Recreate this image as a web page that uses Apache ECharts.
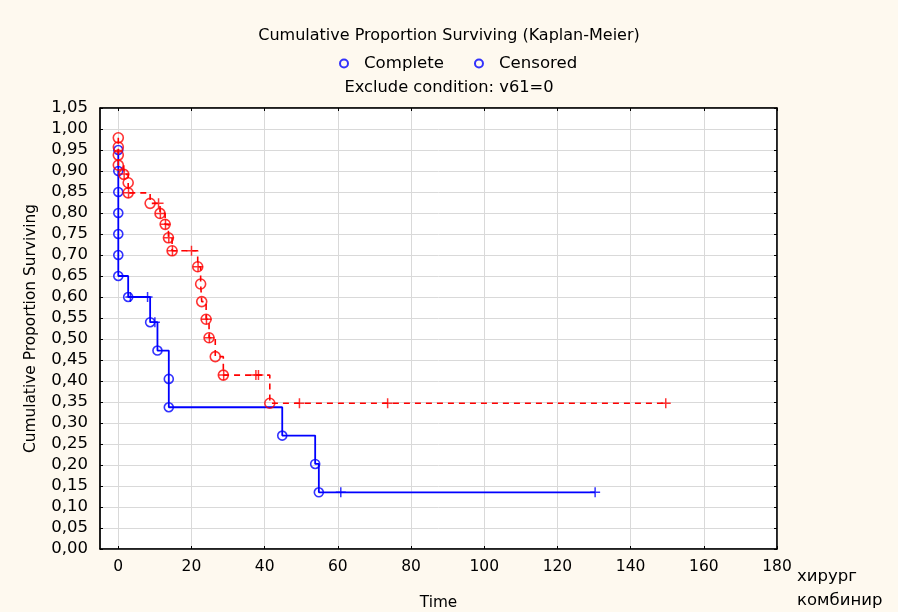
<!DOCTYPE html>
<html>
<head>
<meta charset="utf-8">
<script src="https://cdn.jsdelivr.net/npm/echarts@6/dist/echarts.min.js"></script>
<style>
html,body{margin:0;padding:0;background:#fef9ef;}
#c{width:898px;height:612px;}
</style>
</head>
<body>
<div id="c"></div>
<script>
// X tick labels
const xTicks = [0, 20, 40, 60, 80, 100, 120, 140, 160, 180];

// хирург (blue, solid): event times and survival at each event
const surgTimes = [0, 0, 0, 0, 0, 0, 0, 2.7, 8.7, 10.7, 13.8, 13.8, 44.8, 53.8, 54.8];
const surgSurv  = [0.95, 0.90, 0.85, 0.80, 0.75, 0.70, 0.65, 0.60, 0.54, 0.4725, 0.405, 0.3375, 0.27, 0.2025, 0.135];
// хирург censored
const surgCensT = [3.3, 8.0, 10.0, 60.8, 130.3];
const surgCensS = [0.60, 0.60, 0.54, 0.135, 0.135];

// комбинир (red, dashed)
const combTimes = [0, 0, 0, 0, 1.5, 2.7, 2.7, 8.7, 11.4, 12.8, 13.7, 14.7, 21.7, 22.5, 22.8, 24.0, 24.8, 26.5, 28.7, 41.4];
const combSurv  = [0.979, 0.957, 0.938, 0.914, 0.892, 0.872, 0.848, 0.823, 0.799, 0.773, 0.741, 0.710, 0.672, 0.631, 0.589, 0.547, 0.503, 0.458, 0.414, 0.347];
// комбинир censored
const combCensT = [1.6, 2.8, 11.0, 11.5, 12.9, 13.8, 14.8, 20.0, 21.8, 24.1, 24.9, 28.8, 37.6, 38.3, 49.5, 73.6, 149.6];
const combCensS = [0.893, 0.848, 0.823, 0.799, 0.773, 0.741, 0.710, 0.710, 0.672, 0.547, 0.503, 0.414, 0.414, 0.414, 0.347, 0.347, 0.347];

function stepLine(times, surv, censT) {
  const pts = [[times[0], surv[0]]];
  for (let i = 1; i < times.length; i++) {
    pts.push([times[i], surv[i - 1]]);
    pts.push([times[i], surv[i]]);
  }
  const last = Math.max(...censT);
  if (last > times[times.length - 1]) pts.push([last, surv[surv.length - 1]]);
  return pts;
}
function zip(a, b) { return a.map((v, i) => [v, b[i]]); }

const BLUE = '#0000ff', RED = '#ff0000';
const plusPath = 'path://M5,0L5,10M0,5L10,5';
const FONT = '"DejaVu Sans", Verdana, sans-serif';

const chart = echarts.init(document.getElementById('c'), null, {renderer: 'canvas'});
chart.setOption({
  backgroundColor: '#fef9ef',
  animation: false,
  title: [
    {text: 'Cumulative Proportion Surviving (Kaplan-Meier)', left: 'center', top: 23,
     textStyle: {fontFamily: FONT, fontSize: 16, fontWeight: 'normal', color: '#000'}},
    {text: 'Exclude condition: v61=0', left: 'center', top: 75,
     textStyle: {fontFamily: FONT, fontSize: 16.3, fontWeight: 'normal', color: '#000'}}
  ],
  legend: {
    top: 50, left: 334, itemWidth: 8, itemHeight: 8, itemGap: 30,
    textStyle: {fontFamily: FONT, fontSize: 16.6, color: '#000', padding: [0, 0, 0, 11]},
    data: [
      {name: 'Complete', icon: 'circle', itemStyle: {color: 'transparent', borderColor: BLUE, borderWidth: 2}},
      {name: 'Censored', icon: 'circle', itemStyle: {color: 'transparent', borderColor: BLUE, borderWidth: 2}}
    ]
  },
  grid: {left: 100, right: 121, top: 108, bottom: 63, outerBoundsMode: 'none', containLabel: false,
    show: true, backgroundColor: '#ffffff', borderColor: '#000', borderWidth: 1},
  xAxis: [{
    type: 'value', min: -5, max: 180,
    name: 'Time', nameLocation: 'middle', nameGap: 47,
    nameTextStyle: {fontFamily: FONT, fontSize: 15.3, color: '#000'},
    axisLine: {show: true, onZero: false, lineStyle: {color: '#000', width: 1.5}},
    axisTick: {show: true, inside: true, length: 3, customValues: xTicks, lineStyle: {color: '#000'}},
    axisLabel: {customValues: xTicks, fontFamily: FONT, fontSize: 15.5, color: '#000', margin: 10},
    splitLine: {show: true, lineStyle: {color: '#d9d9d9', width: 1}}
  }, {
    type: 'value', min: -5, max: 180, position: 'top',
    axisLine: {show: true, onZero: false, lineStyle: {color: '#000', width: 1.5}},
    axisTick: {show: true, inside: true, length: 3, customValues: xTicks, lineStyle: {color: '#000'}},
    axisLabel: {show: false, customValues: xTicks},
    splitLine: {show: false}
  }],
  yAxis: [{
    type: 'value', min: 0, max: 1.05, interval: 0.05,
    name: 'Cumulative Proportion Surviving', nameLocation: 'middle', nameGap: 62,
    nameTextStyle: {fontFamily: FONT, fontSize: 15.4, color: '#000'},
    axisLine: {show: true, onZero: false, lineStyle: {color: '#000', width: 1.5}},
    axisTick: {show: true, inside: true, length: 3, lineStyle: {color: '#000'}},
    axisLabel: {fontFamily: FONT, fontSize: 16.5, color: '#000', margin: 12,
      formatter: v => v.toFixed(2).replace('.', ',')},
    splitLine: {show: true, lineStyle: {color: '#d9d9d9', width: 1}}
  }, {
    type: 'value', min: 0, max: 1.05, interval: 0.05, position: 'right',
    axisLine: {show: true, onZero: false, lineStyle: {color: '#000', width: 1.5}},
    axisTick: {show: true, inside: true, length: 3, lineStyle: {color: '#000'}},
    axisLabel: {show: false},
    splitLine: {show: false}
  }],
  graphic: [
    {type: 'text', left: 797, top: 568, style: {text: 'хирург', font: '16.5px ' + FONT, fill: '#000'}},
    {type: 'text', left: 797, top: 592, style: {text: 'комбинир', font: '16.5px ' + FONT, fill: '#000'}}
  ],
  series: [
    {name: 'Complete', type: 'scatter', data: []},
    {name: 'Censored', type: 'scatter', data: []},
    {type: 'line', data: stepLine(surgTimes, surgSurv, surgCensT), showSymbol: false, symbol: 'none',
     lineStyle: {color: BLUE, width: 1.8}, z: 2},
    {type: 'scatter', data: zip(surgTimes, surgSurv), symbol: 'circle', symbolSize: 9,
     itemStyle: {color: 'transparent', borderColor: BLUE, borderWidth: 1.6}, z: 3},
    {type: 'scatter', data: zip(surgCensT, surgCensS), symbol: plusPath, symbolSize: 10,
     itemStyle: {color: 'none', borderColor: BLUE, borderWidth: 1.5}, z: 3},
    {type: 'line', data: stepLine(combTimes, combSurv, combCensT), showSymbol: false, symbol: 'none',
     lineStyle: {color: RED, width: 1.6, type: [6, 5]}, z: 4},
    {type: 'scatter', data: zip(combTimes, combSurv), symbol: 'circle', symbolSize: 10,
     itemStyle: {color: 'transparent', borderColor: RED, borderWidth: 1.6}, z: 5},
    {type: 'scatter', data: zip(combCensT, combCensS), symbol: plusPath, symbolSize: 10,
     itemStyle: {color: 'none', borderColor: RED, borderWidth: 1.5}, z: 5}
  ]
});
</script>
</body>
</html>
